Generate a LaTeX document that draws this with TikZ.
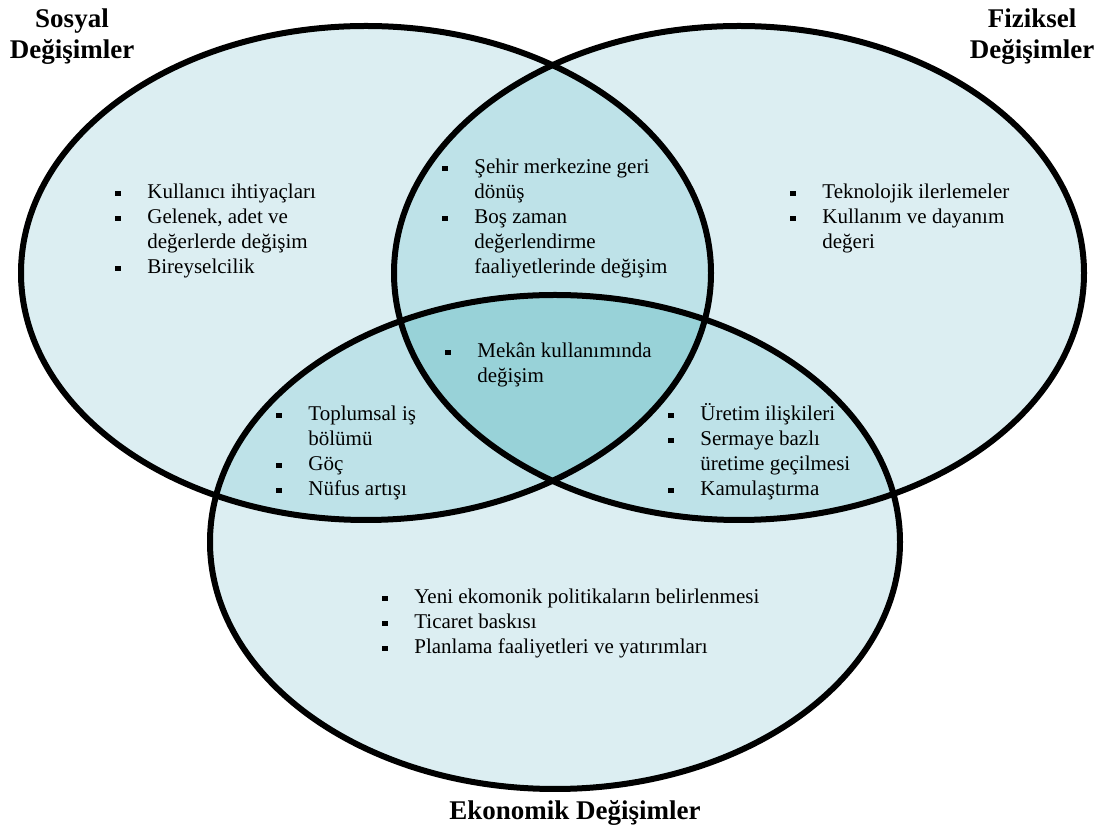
\documentclass[tikz,border=0pt]{standalone}
\usepackage{fontspec}
\setmainfont{Liberation Serif}
\usepackage{array}
\usetikzlibrary{positioning}
\definecolor{tekli}{RGB}{220,238,242}
\definecolor{ikili}{RGB}{190,226,232}
\definecolor{uclu}{RGB}{152,210,216}
\newcommand{\kare}{\rule[1.5pt]{2.7pt}{2.7pt}}
\newcommand{\liste}[1]{\begin{tabular}[t]{@{}p{16pt}@{}l@{}}#1\end{tabular}}

\begin{document}
\begin{tikzpicture}[x=0.5pt, y=0.5pt,
  venn/.style={x radius=345, y radius=247},
  cizgi/.style={line width=3pt},
  madde/.style={anchor=base west, inner sep=0pt, font=\fontsize{10.5}{12.5}\selectfont},
  baslik/.style={align=center, inner sep=0pt, font=\bfseries\fontsize{13.5}{15.5}\selectfont}]
  \useasboundingbox (0,0) rectangle (1104,830);

  \coordinate (sosyal) at (366,557);
  \coordinate (fiziksel) at (739,557);
  \coordinate (ekonomik) at (555,288);

  \foreach \e in {sosyal,fiziksel,ekonomik}
    \fill[tekli] (\e) ellipse [venn];
  \begin{scope}
    \clip (fiziksel) ellipse [venn];
    \fill[ikili] (ekonomik) ellipse [venn];
  \end{scope}
  \begin{scope}
    \clip (sosyal) ellipse [venn];
    \fill[ikili] (fiziksel) ellipse [venn];
    \fill[ikili] (ekonomik) ellipse [venn];
    \clip (fiziksel) ellipse [venn];
    \fill[uclu] (ekonomik) ellipse [venn];
  \end{scope}
  \foreach \e in {sosyal,fiziksel,ekonomik}
    \draw[cizgi] (\e) ellipse [venn];

  \node[baslik] (sosyalbaslik) at (72,793) {Sosyal\\Değişimler};
  \node[baslik] (fizikselbaslik) at (1032,793) {Fiziksel\\Değişimler};
  \node[baslik] (ekonomikbaslik) at (575,17) {Ekonomik Değişimler};

  \node[madde] (sosyalmadde) at (115,631) {\liste{
    \kare & Kullanıcı ihtiyaçları\\
    \kare & Gelenek, adet ve\\
          & değerlerde değişim\\
    \kare & Bireyselcilik}};
  \node[madde] (sosyalfiziksel) at (442,656) {\liste{
    \kare & Şehir merkezine geri\\
          & dönüş\\
    \kare & Boş zaman\\
          & değerlendirme\\
          & faaliyetlerinde değişim}};
  \node[madde] (fizikselmadde) at (790,631) {\liste{
    \kare & Teknolojik ilerlemeler\\
    \kare & Kullanım ve dayanım\\
          & değeri}};
  \node[madde] (ortak) at (445,472) {\liste{
    \kare & Mekân kullanımında\\
          & değişim}};
  \node[madde] (sosyalekonomik) at (276,409) {\liste{
    \kare & Toplumsal iş\\
          & bölümü\\
    \kare & Göç\\
    \kare & Nüfus artışı}};
  \node[madde] (fizikselekonomik) at (668,409) {\liste{
    \kare & Üretim ilişkileri\\
    \kare & Sermaye bazlı\\
          & üretime geçilmesi\\
    \kare & Kamulaştırma}};
  \node[madde] (ekonomikmadde) at (382,226) {\liste{
    \kare & Yeni ekomonik politikaların belirlenmesi\\
    \kare & Ticaret baskısı\\
    \kare & Planlama faaliyetleri ve yatırımları}};
\end{tikzpicture}
\end{document}
